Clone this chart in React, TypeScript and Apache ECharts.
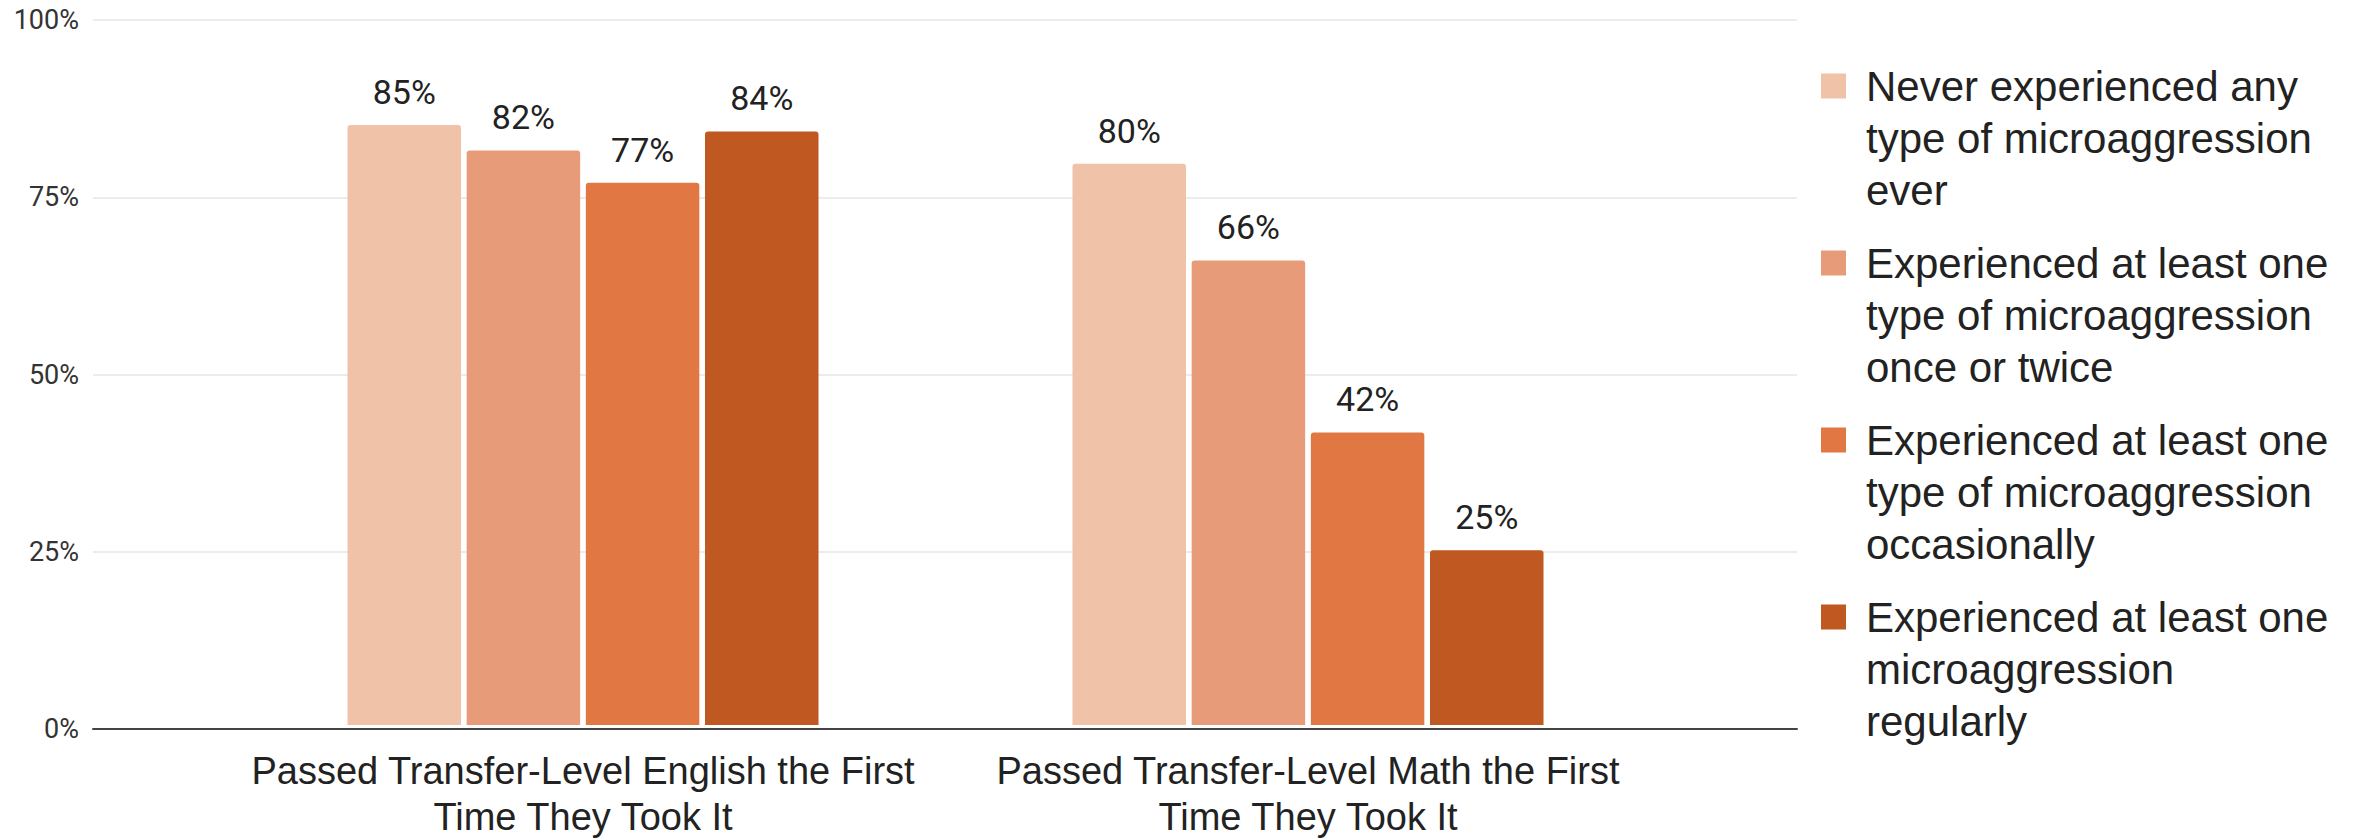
import React, { useEffect, useRef } from "react";
import * as echarts from "echarts";

const categories = [
  "Passed Transfer-Level English the First\nTime They Took It",
  "Passed Transfer-Level Math the First\nTime They Took It",
];

const seriesNames = [
  "Never experienced any type of microaggression ever",
  "Experienced at least one type of microaggression once or twice",
  "Experienced at least one type of microaggression occasionally",
  "Experienced at least one microaggression regularly",
];

const legendLines: Record<string, string> = {
  "Never experienced any type of microaggression ever":
    "Never experienced any\ntype of microaggression\never",
  "Experienced at least one type of microaggression once or twice":
    "Experienced at least one\ntype of microaggression\nonce or twice",
  "Experienced at least one type of microaggression occasionally":
    "Experienced at least one\ntype of microaggression\noccasionally",
  "Experienced at least one microaggression regularly":
    "Experienced at least one\nmicroaggression\nregularly",
};

const neverValues = [85.1, 79.6];
const onceTwiceValues = [81.5, 65.9];
const occasionallyValues = [76.9, 41.5];
const regularlyValues = [84.2, 24.8];

const seriesValues = [neverValues, onceTwiceValues, occasionallyValues, regularlyValues];
const colors = ["#F0C2A8", "#E89B78", "#E17843", "#BF5821"];

const yMin = 0;
const yMax = 100;
const yInterval = 25;

export default function App() {
  const ref = useRef<HTMLDivElement>(null);

  useEffect(() => {
    if (!ref.current) return;
    const chart = echarts.init(ref.current, null, { renderer: "svg" });

    const legendIcon =
      "path://M0,0h0.01v0.01h-0.01z M0,13.5h25v25h-25z M39.99,155.99h0.01v0.01h-0.01z";

    const option: any = {
      animation: false,
      backgroundColor: "#ffffff",
      grid: [
        { left: 93, right: 557, top: 20, bottom: 111, containLabel: false },
        { left: 220.5, right: 683.5, top: 20, bottom: 111, containLabel: false },
      ],
      xAxis: [
        {
          gridIndex: 0,
          type: "value",
          min: 0,
          max: 1,
          axisLabel: { show: false },
          axisTick: { show: false },
          splitLine: { show: false },
          axisLine: { show: true, lineStyle: { color: "#444444", width: 2 } },
        },
        {
          gridIndex: 1,
          type: "category",
          data: categories,
          axisLine: { show: false },
          axisTick: { show: false },
          axisLabel: {
            interval: 0,
            color: "#222222",
            fontFamily: "Liberation Sans, Arial, sans-serif",
            fontSize: 38,
            lineHeight: 46,
            margin: 23,
          },
        },
      ],
      yAxis: [
        {
          gridIndex: 0,
          type: "value",
          min: yMin,
          max: yMax,
          interval: yInterval,
          axisLine: { show: false },
          axisTick: { show: false },
          axisLabel: {
            formatter: "{value}%",
            color: "#333333",
            fontFamily: "Roboto, sans-serif",
            fontSize: 27,
            margin: 14,
          },
          splitLine: { show: true, lineStyle: { color: "#ececec", width: 2 } },
        },
        {
          gridIndex: 1,
          type: "value",
          min: yMin,
          max: yMax,
          interval: yInterval,
          show: false,
          splitLine: { show: false },
        },
      ],
      legend: {
        orient: "vertical",
        left: 1821,
        top: 60,
        padding: 0,
        itemGap: 21,
        itemWidth: 40,
        itemHeight: 156,
        icon: legendIcon,
        data: seriesNames,
        formatter: (name: string) => legendLines[name] || name,
        textStyle: {
          color: "#222222",
          fontFamily: "Liberation Sans, Arial, sans-serif",
          fontSize: 42,
          lineHeight: 52,
        },
        selectedMode: false,
      },
      series: seriesNames.map((name, i) => ({
        name,
        type: "bar",
        xAxisIndex: 1,
        yAxisIndex: 1,
        data: seriesValues[i],
        barWidth: 113.5,
        barGap: "5%",
        itemStyle: { color: colors[i], borderRadius: [3, 3, 0, 0] },
        label: {
          show: true,
          position: "top",
          distance: 16,
          color: "#222222",
          fontFamily: "Roboto, sans-serif",
          fontSize: 34,
          formatter: (p: any) => `${Math.round(p.value)}%`,
        },
      })),
    };

    chart.setOption(option);
    return () => chart.dispose();
  }, []);

  return (
    <div
      ref={ref}
      style={{ position: "absolute", left: 0, top: 0, width: 2354, height: 840 }}
    />
  );
}
